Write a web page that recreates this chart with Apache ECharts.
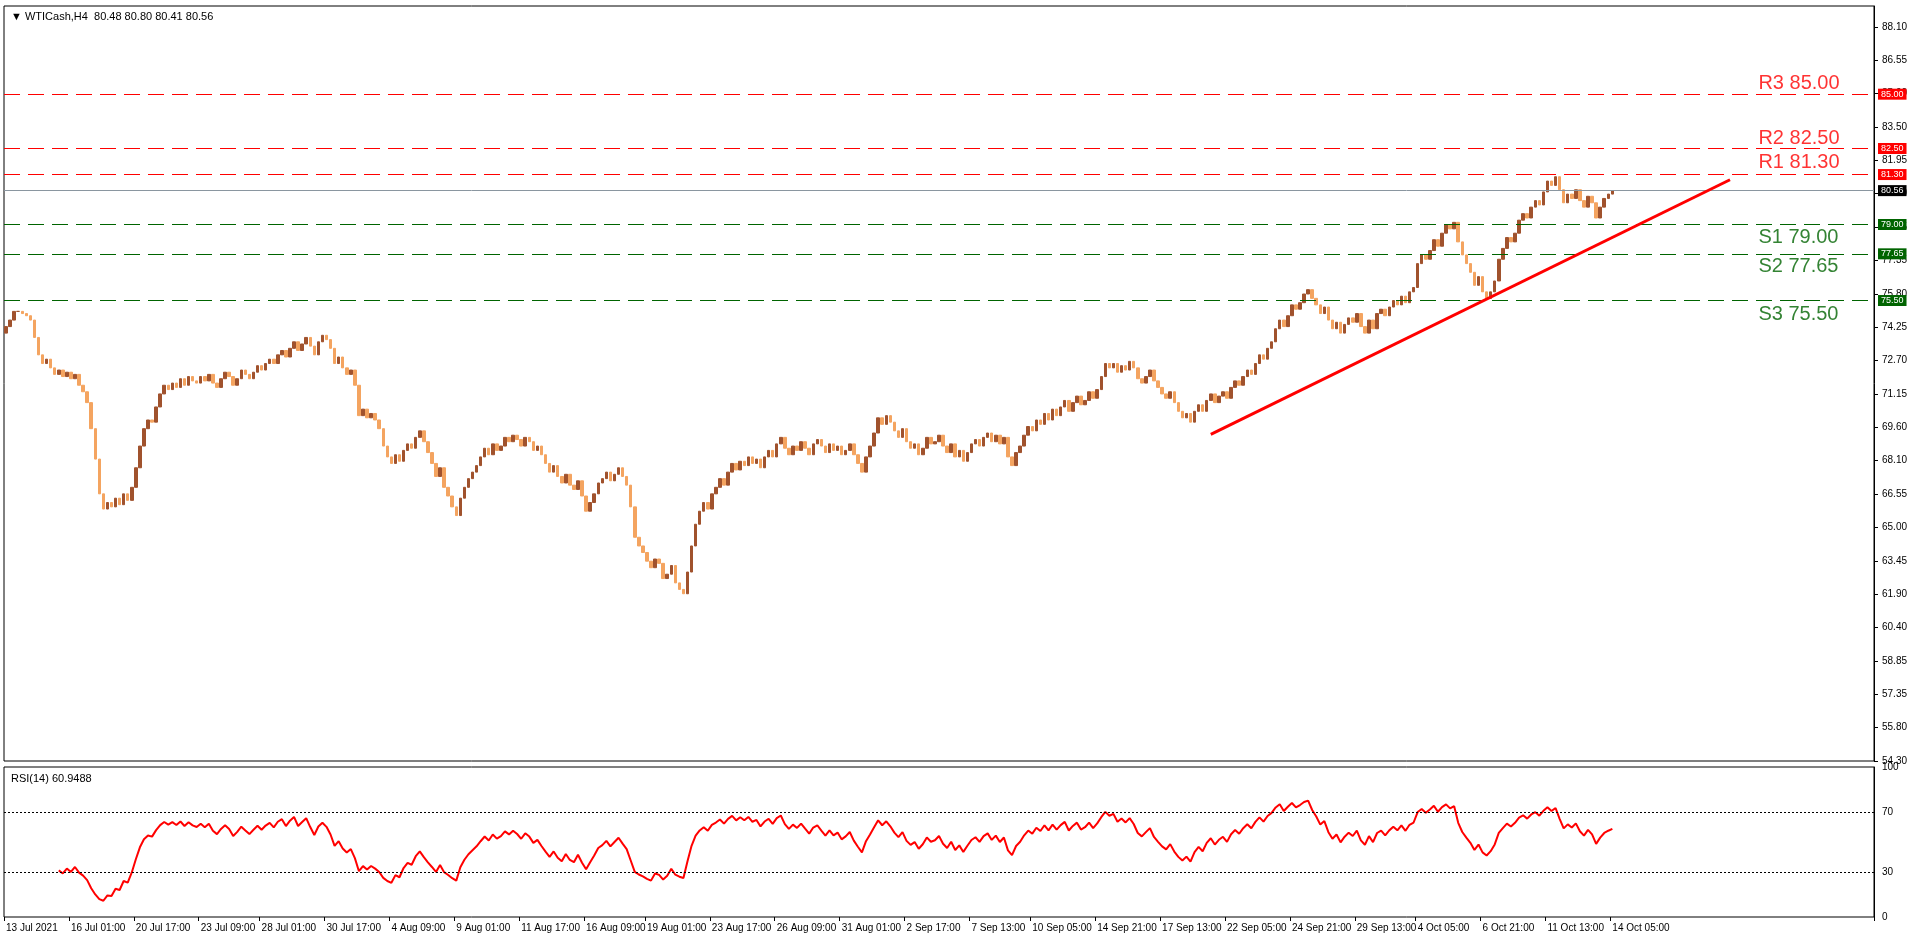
<!DOCTYPE html>
<html><head><meta charset="utf-8">
<script src="https://cdn.jsdelivr.net/npm/echarts@6/dist/echarts.min.js"></script>
<style>html,body{margin:0;padding:0;background:#fff}#c{width:1916px;height:937px}</style>
</head><body><div id="c"></div>
<script>
const closes = [
74.3,74.6,75.0,75.0,74.9,74.8,74.6,73.8,73.0,72.6,72.8,72.4,72.1,72.3,72.0,72.2,
71.9,72.1,71.6,71.3,70.8,69.6,68.2,66.6,65.9,66.2,66.0,66.4,66.1,66.6,66.3,66.9,
67.8,68.8,69.6,70.0,69.9,70.6,71.2,71.6,71.4,71.7,71.5,71.9,71.6,72.0,71.8,71.7,
72.0,71.8,72.1,71.7,71.5,71.9,72.2,72.0,71.6,71.9,72.3,72.1,71.9,72.2,72.5,72.3,
72.6,72.8,72.6,73.0,73.2,72.9,73.3,73.6,73.2,73.5,73.8,73.4,73.0,73.6,73.9,73.7,
73.3,72.6,72.9,72.4,72.1,72.3,71.6,70.2,70.5,70.1,70.3,70.0,69.6,68.8,68.3,68.0,
68.4,68.1,68.6,68.9,68.7,69.2,69.5,69.0,68.5,68.0,67.4,67.8,66.9,66.5,66.0,65.6,
66.4,66.9,67.3,67.6,67.9,68.3,68.7,68.4,68.9,68.6,68.8,69.2,69.0,69.3,69.1,68.8,
69.2,69.0,68.6,68.8,68.4,68.0,67.6,67.9,67.4,67.1,67.5,67.0,66.8,67.2,66.5,65.8,
66.2,66.6,67.1,67.3,67.6,67.2,67.5,67.8,67.4,67.0,66.0,64.6,64.2,63.9,63.5,63.2,
63.6,63.4,62.7,62.9,63.3,62.5,62.2,62.0,63.0,64.2,65.2,65.8,66.2,65.9,66.6,66.9,
67.3,67.0,67.6,68.0,67.7,68.1,67.9,68.3,68.0,68.2,67.8,68.3,68.6,68.3,68.9,69.2,
68.7,68.4,68.8,68.6,69.0,68.7,68.4,68.9,69.1,68.8,68.5,68.9,68.6,68.8,68.4,68.6,
68.9,68.4,68.0,67.6,68.3,68.8,69.4,70.1,69.8,70.2,69.9,69.5,69.2,69.6,69.0,68.7,
68.9,68.4,68.7,69.2,68.9,69.0,69.3,68.8,68.5,68.9,68.3,68.6,68.1,68.5,68.9,69.1,
68.8,69.2,69.4,69.0,69.3,68.9,69.2,68.3,67.9,68.5,68.8,69.3,69.7,69.5,70.0,69.8,
70.3,70.0,70.5,70.2,70.6,70.9,70.4,70.8,71.1,70.7,70.9,71.3,71.0,71.4,72.0,72.6,
72.4,72.6,72.2,72.5,72.3,72.7,72.4,71.9,71.7,72.0,72.3,71.8,71.5,71.2,71.0,71.3,
70.8,70.4,70.1,70.3,69.9,70.4,70.7,70.4,70.9,71.2,70.8,71.1,71.3,71.0,71.5,71.8,
71.6,72.0,72.3,72.1,72.6,73.0,72.8,73.3,73.6,74.2,74.6,74.3,74.8,75.3,75.1,75.4,
75.8,76.0,75.6,75.3,74.9,75.2,74.6,74.2,74.5,74.0,74.4,74.7,74.5,74.9,74.3,74.0,
74.6,74.2,74.9,75.1,74.8,75.2,75.5,75.3,75.7,75.4,75.9,76.1,77.2,77.6,77.4,77.8,
78.3,78.0,78.6,79.0,78.8,79.1,78.2,77.6,77.2,76.8,76.2,76.6,75.9,75.6,75.9,76.4,
77.4,77.9,78.4,78.2,78.6,79.2,79.5,79.3,79.8,80.1,79.9,80.5,81.0,80.8,81.2,80.6,
80.0,80.4,80.2,80.6,80.1,79.8,80.3,80.0,79.3,79.8,80.2,80.4,80.56];
const firstOpen = 74.0;
const xLabels = ["13 Jul 2021","16 Jul 01:00","20 Jul 17:00","23 Jul 09:00","28 Jul 01:00","30 Jul 17:00","4 Aug 09:00","9 Aug 01:00","11 Aug 17:00","16 Aug 09:00","19 Aug 01:00","23 Aug 17:00","26 Aug 09:00","31 Aug 01:00","2 Sep 17:00","7 Sep 13:00","10 Sep 05:00","14 Sep 21:00","17 Sep 13:00","22 Sep 05:00","24 Sep 21:00","29 Sep 13:00","4 Oct 05:00","6 Oct 21:00","11 Oct 13:00","14 Oct 05:00"];
const yTickLabels = ["54.30","55.80","57.35","58.85","60.40","61.90","63.45","65.00","66.55","68.10","69.60","71.15","72.70","74.25","75.80","77.35","78.85","80.40","81.95","83.50","85.00","86.55","88.10"];
const resistance = [{name:"R3",v:85.00},{name:"R2",v:82.50},{name:"R1",v:81.30}];
const support = [{name:"S1",v:79.00},{name:"S2",v:77.65},{name:"S3",v:75.50}];
const lastPrice = 80.56;
const trend = [[297,69.34],[425,81.06]];
const levelTextPos = {R3:85.51,R2:82.98,R1:81.85,S1:78.41,S2:77.06,S3:74.86};

const N = 461;
const cats = Array.from({length:N},(_,i)=>String(i));
const n = closes.length;
const labelIdx = {};
xLabels.forEach((l,k)=>{labelIdx[Math.round(k*(n-1)/(xLabels.length-1))]=l;});
const ohlc = closes.map((c,i)=>{const o=i?closes[i-1]:firstOpen;return [o,c,Math.min(o,c),Math.max(o,c)];});
// RSI(14) Wilder
const rsi=new Array(n).fill(null);
let ag=0,al=0;const all=[firstOpen,...closes];
for(let i=1;i<all.length;i++){const d=all[i]-all[i-1];const g=Math.max(d,0),l=Math.max(-d,0);
 if(i<=14){ag+=g/14;al+=l/14;if(i===14)rsi[i-1]=100-100/(1+ag/(al||1e-9));}
 else{ag=(ag*13+g)/14;al=(al*13+l)/14;rsi[i-1]=100-100/(1+ag/(al||1e-9));}}

const RED='#ff0000',GRN='#006400';
const lvlLines=[];
resistance.forEach(r=>lvlLines.push({yAxis:r.v,lineStyle:{color:RED},label:{formatter:r.v.toFixed(2),backgroundColor:RED}}));
support.forEach(s=>lvlLines.push({yAxis:s.v,lineStyle:{color:GRN},label:{formatter:s.v.toFixed(2),backgroundColor:GRN}}));
lvlLines.push({yAxis:lastPrice,lineStyle:{color:'#8a96a0',type:'solid'},label:{formatter:lastPrice.toFixed(2),backgroundColor:'#000'}});
const textData=[...resistance,...support].map(o=>({value:['432',levelTextPos[o.name]],label:{formatter:o.name+' '+o.v.toFixed(2),color:o.name[0]==='R'?RED:GRN}}));

const tickInt=(88.10-54.30)/22;
const chart=echarts.init(document.getElementById('c'));
chart.setOption({
 animation:false,
 textStyle:{fontFamily:'Liberation Sans, Arial'},
 title:[{text:'▼ WTICash,H4  80.48 80.80 80.41 80.56',left:6,top:6,textStyle:{fontSize:11,fontWeight:'normal',color:'#000'}},
        {text:'RSI(14) 60.9488',left:6,top:768,textStyle:{fontSize:11,fontWeight:'normal',color:'#000'}}],
 grid:[{left:4,right:42,top:6,height:755,show:true,borderColor:'#000',borderWidth:1},
       {left:4,right:42,top:767,height:150,show:true,borderColor:'#000',borderWidth:1}],
 xAxis:[{type:'category',data:cats,gridIndex:0,axisLine:{show:false},axisTick:{show:false},axisLabel:{show:false}},
        {type:'category',data:cats,gridIndex:1,axisLine:{show:false},
         axisTick:{show:true,interval:(i)=>labelIdx[i]!==undefined,length:4,inside:false,lineStyle:{color:'#000'}},
         axisLabel:{interval:(i)=>labelIdx[i]!==undefined,formatter:(v)=>labelIdx[+v]||'',align:'left',fontSize:10,color:'#000',margin:6}}],
 yAxis:[{type:'value',gridIndex:0,position:'right',min:54.3,max:89.06,interval:tickInt,splitLine:{show:false},
         axisLine:{show:true,lineStyle:{color:'#000'}},axisTick:{show:true,length:4,lineStyle:{color:'#000'}},
         axisLabel:{fontSize:10,color:'#000',showMaxLabel:false,formatter:(v)=>yTickLabels[Math.round((v-54.3)/tickInt)]||''}},
        {type:'value',gridIndex:1,position:'right',min:0,max:100,interval:10,splitLine:{show:false},
         axisLine:{show:true,lineStyle:{color:'#000'}},axisTick:{show:false},
         axisLabel:{fontSize:10,color:'#000',formatter:(v)=>[0,30,70,100].includes(v)?String(v):''}}],
 series:[
  {type:'candlestick',xAxisIndex:0,yAxisIndex:0,data:ohlc,barWidth:3,
   itemStyle:{color:'#a0522d',color0:'#f4a460',borderColor:'#a0522d',borderColor0:'#f4a460',borderWidth:1},
   markLine:{silent:true,symbol:'none',animation:false,
     lineStyle:{type:[16,8],width:1},
     label:{position:'end',color:'#fff',fontSize:9,padding:[1,3],distance:4},
     data:[...lvlLines,
       [{coord:[String(trend[0][0]),trend[0][1]],lineStyle:{color:RED,width:3,type:'solid'},label:{show:false}},
        {coord:[String(trend[1][0]),trend[1][1]]}]]}},
  {type:'scatter',xAxisIndex:0,yAxisIndex:0,symbolSize:0,data:textData,
   label:{show:true,position:'right',fontSize:20,distance:0}},
  {type:'line',xAxisIndex:1,yAxisIndex:1,data:rsi,showSymbol:false,lineStyle:{color:RED,width:2},
   markLine:{silent:true,symbol:'none',label:{show:false},lineStyle:{color:'#000',type:[2,2],width:1},data:[{yAxis:70},{yAxis:30}]}}
 ]
});
</script></body></html>
